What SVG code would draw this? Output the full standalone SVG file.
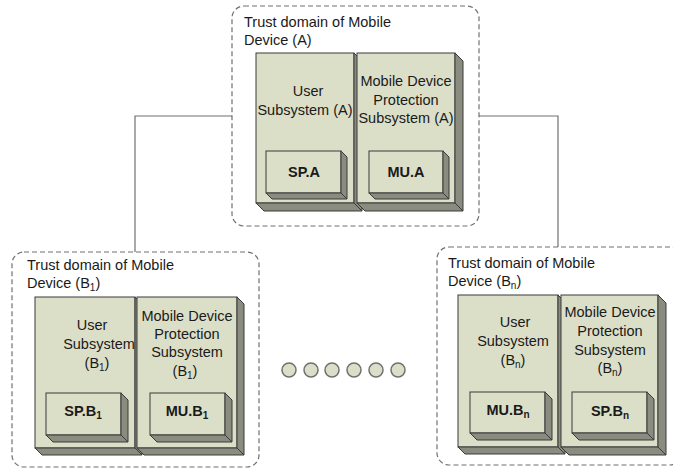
<svg xmlns="http://www.w3.org/2000/svg" width="673" height="470" viewBox="0 0 673 470">
<style>
.dom{fill:#ffffff;stroke:#707070;stroke-width:1.2;stroke-dasharray:5,3}
.face{fill:#dcdfc8;stroke:#3a3a3a;stroke-width:1}
.side{fill:#8a8c7f;stroke:#3a3a3a;stroke-width:1}
.t{font-family:"Liberation Sans",Arial,sans-serif;font-size:14.5px;fill:#1a1a1a}
.c{text-anchor:middle}
.b{font-weight:bold}
.conn{fill:none;stroke:#707070;stroke-width:1.2}
.dot{fill:#dcdfc8;stroke:#707070;stroke-width:1.5}
</style>
<rect width="673" height="470" fill="#ffffff"/>
<g id="connectors">
<polyline class="conn" points="232,116 135,116 135,252"/>
<polyline class="conn" points="479,116 558,116 558,247"/>
</g>
<g id="domainA">
<rect class="dom" x="232" y="6" width="247" height="220" rx="12"/>
<text class="t" x="244" y="27">Trust domain of Mobile</text>
<text class="t" x="244" y="45">Device (A)</text>
<g id="userA">
<rect class="face" x="256" y="53" width="98" height="150"/>
<polygon class="side" points="354,53 362,61 362,211 354,203"/>
<polygon class="side" points="256,203 354,203 362,211 264,211"/>
<text class="t c" x="308" y="96">User</text>
<text class="t c" x="305" y="115">Subsystem (A)</text>
</g>
<g id="protA">
<rect class="face" x="357" y="53" width="98" height="150"/>
<polygon class="side" points="455,53 463,61 463,211 455,203"/>
<polygon class="side" points="357,203 455,203 463,211 365,211"/>
<text class="t c" x="406" y="86">Mobile Device</text>
<text class="t c" x="406" y="105">Protection</text>
<text class="t c" x="406" y="123">Subsystem (A)</text>
</g>
<g id="spA">
<rect class="face" x="266" y="151" width="75" height="42"/>
<polygon class="side" points="341,151 347,157 347,199 341,193"/>
<polygon class="side" points="266,193 341,193 347,199 272,199"/>
<text class="t c b" x="304" y="177">SP.A</text>
</g>
<g id="muA">
<rect class="face" x="369" y="151" width="74" height="42"/>
<polygon class="side" points="443,151 449,157 449,199 443,193"/>
<polygon class="side" points="369,193 443,193 449,199 375,199"/>
<text class="t c b" x="406" y="177">MU.A</text>
</g>
</g>
<g id="domainB1">
<rect class="dom" x="12" y="252" width="247" height="215" rx="12"/>
<text class="t" x="27" y="270">Trust domain of Mobile</text>
<text class="t" x="27" y="288">Device (B<tspan font-size="10" dy="3">1</tspan><tspan dy="-3">)</tspan></text>
<g id="userB1">
<rect class="face" x="35" y="297" width="100" height="151"/>
<polygon class="side" points="135,297 142,304 142,455 135,448"/>
<polygon class="side" points="35,448 135,448 142,455 42,455"/>
<text class="t c" x="92" y="330">User</text>
<text class="t c" x="99" y="349">Subsystem</text>
<text class="t c" x="97" y="368">(B<tspan font-size="10" dy="3">1</tspan><tspan dy="-3">)</tspan></text>
</g>
<g id="protB1">
<rect class="face" x="137" y="297" width="100" height="151"/>
<polygon class="side" points="237,297 244,304 244,455 237,448"/>
<polygon class="side" points="137,448 237,448 244,455 144,455"/>
<text class="t c" x="187" y="321">Mobile Device</text>
<text class="t c" x="187" y="339">Protection</text>
<text class="t c" x="187" y="357">Subsystem</text>
<text class="t c" x="185" y="376">(B<tspan font-size="10" dy="3">1</tspan><tspan dy="-3">)</tspan></text>
</g>
<g id="spB1">
<rect class="face" x="46" y="393" width="75" height="42"/>
<polygon class="side" points="121,393 128,400 128,442 121,435"/>
<polygon class="side" points="46,435 121,435 128,442 53,442"/>
<text class="t c b" x="83" y="416">SP.B<tspan font-size="10" dy="3">1</tspan></text>
</g>
<g id="muB1">
<rect class="face" x="150" y="393" width="75" height="42"/>
<polygon class="side" points="225,393 232,400 232,442 225,435"/>
<polygon class="side" points="150,435 225,435 232,442 157,442"/>
<text class="t c b" x="187" y="416">MU.B<tspan font-size="10" dy="3">1</tspan></text>
</g>
</g>
<g id="dots">
<circle class="dot" cx="289" cy="370" r="7"/>
<circle class="dot" cx="311" cy="370" r="7"/>
<circle class="dot" cx="332" cy="370" r="7"/>
<circle class="dot" cx="354" cy="370" r="7"/>
<circle class="dot" cx="376" cy="370" r="7"/>
<circle class="dot" cx="398" cy="370" r="7"/>
</g>
<g id="domainBn">
<rect class="dom" x="437" y="247" width="245" height="218" rx="12"/>
<text class="t" x="448" y="268">Trust domain of Mobile</text>
<text class="t" x="448" y="286">Device (B<tspan font-size="10" dy="3">n</tspan><tspan dy="-3">)</tspan></text>
<g id="userBn">
<rect class="face" x="458" y="295" width="100" height="152"/>
<polygon class="side" points="558,295 565,302 565,454 558,447"/>
<polygon class="side" points="458,447 558,447 565,454 465,454"/>
<text class="t c" x="515" y="327">User</text>
<text class="t c" x="513" y="346">Subsystem</text>
<text class="t c" x="513" y="365">(B<tspan font-size="10" dy="3">n</tspan><tspan dy="-3">)</tspan></text>
</g>
<g id="protBn">
<rect class="face" x="561" y="295" width="97" height="152"/>
<polygon class="side" points="658,295 666,303 666,455 658,447"/>
<polygon class="side" points="561,447 658,447 666,455 569,455"/>
<text class="t c" x="610" y="317">Mobile Device</text>
<text class="t c" x="610" y="336">Protection</text>
<text class="t c" x="610" y="355">Subsystem</text>
<text class="t c" x="610" y="373">(B<tspan font-size="10" dy="3">n</tspan><tspan dy="-3">)</tspan></text>
</g>
<g id="muBn">
<rect class="face" x="470" y="392" width="75" height="41"/>
<polygon class="side" points="545,392 552,399 552,440 545,433"/>
<polygon class="side" points="470,433 545,433 552,440 477,440"/>
<text class="t c b" x="508" y="415">MU.B<tspan font-size="10" dy="3">n</tspan></text>
</g>
<g id="spBn">
<rect class="face" x="572" y="392" width="75" height="41"/>
<polygon class="side" points="647,392 654,399 654,440 647,433"/>
<polygon class="side" points="572,433 647,433 654,440 579,440"/>
<text class="t c b" x="610" y="416">SP.B<tspan font-size="10" dy="3">n</tspan></text>
</g>
</g>
</svg>
